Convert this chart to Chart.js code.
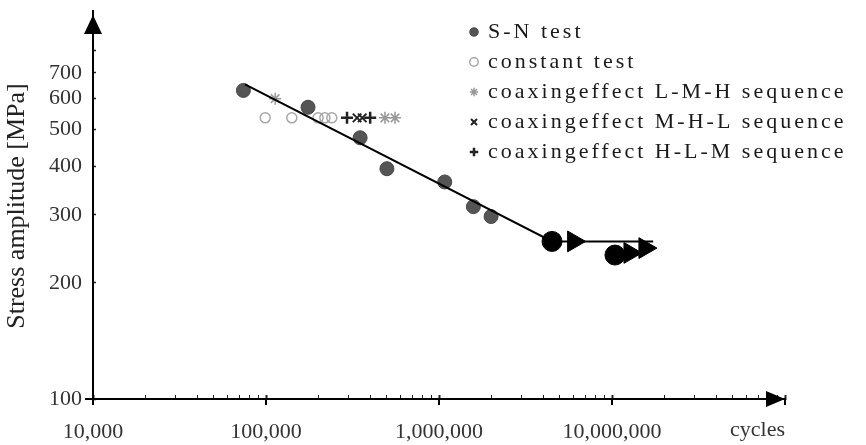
<!DOCTYPE html>
<html>
<head>
<meta charset="utf-8">
<script src="https://cdn.jsdelivr.net/npm/chart.js@4.4.1/dist/chart.umd.min.js"></script>
<style>
html,body{margin:0;padding:0;background:#fff;}
#wrap{width:866px;height:445px;position:relative;}
</style>
</head>
<body>
<div id="wrap"><canvas id="c" width="866" height="445"></canvas></div>
<script>
// ---- data (cycles N, stress amplitude in MPa) ----
const snCycles = [74000, 175000, 350000, 500000, 1080000, 1580000, 2000000];
const snStress = [630, 570, 475, 395, 365, 315, 297];

const constantCycles = [99000, 141000, 200000, 219000, 240000];
const constantStress = [535, 535, 535, 535, 535];

const lmhCycles = [113000, 487000, 557000];
const lmhStress = [600, 535, 535];

const mhlCycles = [336000, 360000];
const mhlStress = [535, 535];

const hlmCycles = [294000, 400000];
const hlmStress = [535, 535];

const fitCycles = [75600, 4500000, 17300000];
const fitStress = [653, 256, 256];

const runoutCycles = [4500000, 10400000];
const runoutStress = [256, 236];

const arrowCycles = [6000000, 12700000, 15500000];
const arrowStress = [256, 239, 246];

const seriesLabels = ['S-N test', 'constant test',
  'coaxingeffect L-M-H sequence', 'coaxingeffect M-H-L sequence', 'coaxingeffect H-L-M sequence'];

const xMajorValues = [1e4, 1e5, 1e6, 1e7, 1e8];
const xTickLabels = ['10,000', '100,000', '1,000,000', '10,000,000', ''];
const yTickValues = [100, 200, 300, 400, 500, 600, 700, 800, 900];
const yTickLabels = ['100', '200', '300', '400', '500', '600', '700', '', ''];
const xAxisEndLabel = 'cycles';
const yAxisTitle = 'Stress amplitude [MPa]';

// ---- helpers ----
const pts = (xs, ys) => xs.map((x, i) => ({x: x, y: ys[i]}));
const xTickValues = [];
xMajorValues.forEach((m, i) => {
  xTickValues.push(m);
  if (i < xMajorValues.length - 1) for (let k = 2; k <= 9; k++) xTickValues.push(m * k);
});
const isMajorX = v => xMajorValues.some(m => Math.abs(v - m) < m * 1e-6);
const xLabelFor = v => {
  const i = xMajorValues.findIndex(m => Math.abs(v - m) < m * 1e-6);
  return i >= 0 ? xTickLabels[i] : '';
};
const yLabelFor = v => {
  const i = yTickValues.findIndex(m => Math.abs(v - m) < 1e-6);
  return i >= 0 ? yTickLabels[i] : '';
};

const FONT = "'Liberation Serif', 'Times New Roman', serif";
Chart.defaults.font.family = FONT;

const decor = {
  id: 'decor',
  afterLayout(chart) {
    const lg = chart.legend;
    if (lg) {
      lg.left = 463; lg.top = 13;
      lg.right = chart.width; lg.width = chart.width - 463;
      lg.bottom = 220; lg.height = 207;
    }
  },
  beforeDraw(chart) {
    const lg = chart.legend;
    if (lg && !lg._spaced) {
      const orig = lg.draw;
      lg.draw = function (a) {
        const c = this.ctx;
        c.save();
        c.letterSpacing = '3px';
        orig.call(this, a);
        c.letterSpacing = '0px';
        c.restore();
      };
      lg._spaced = true;
    }
  },
  afterDraw(chart) {
    const {ctx, chartArea: a, scales} = chart;
    const x = scales.x;
    ctx.save();
    ctx.fillStyle = '#000';
    ctx.strokeStyle = '#000';
    ctx.lineWidth = 2;
    // y arrow
    ctx.beginPath();
    ctx.moveTo(a.left, a.top + 4); ctx.lineTo(a.left, a.top - 3); ctx.stroke();
    ctx.beginPath();
    ctx.moveTo(a.left, a.top + 2);
    ctx.lineTo(a.left - 9, a.top + 21);
    ctx.lineTo(a.left + 9, a.top + 21);
    ctx.closePath(); ctx.fill();
    // x arrow
    ctx.beginPath();
    ctx.moveTo(a.right, a.bottom);
    ctx.lineTo(a.right - 19, a.bottom - 8);
    ctx.lineTo(a.right - 19, a.bottom + 8);
    ctx.closePath(); ctx.fill();
    // axis cross extensions
    ctx.beginPath();
    ctx.moveTo(a.left - 8, a.bottom); ctx.lineTo(a.left, a.bottom);
    ctx.moveTo(a.left, a.bottom); ctx.lineTo(a.left, a.bottom + 5);
    ctx.stroke();
    // major tick parts below the axis
    ctx.lineWidth = 2;
    xMajorValues.forEach(v => {
      const px = x.getPixelForValue(v);
      ctx.beginPath(); ctx.moveTo(px, a.bottom); ctx.lineTo(px, a.bottom + 6); ctx.stroke();
    });
    ctx.restore();
  }
};

new Chart(document.getElementById('c').getContext('2d'), {
  type: 'scatter',
  data: {
    datasets: [
      {label: seriesLabels[0], data: pts(snCycles, snStress), pointStyle: 'circle', pointRadius: 7,
        backgroundColor: '#555', borderColor: '#474747', borderWidth: 1, order: 3},
      {label: seriesLabels[1], data: pts(constantCycles, constantStress), pointStyle: 'circle', pointRadius: 5,
        backgroundColor: 'rgba(255,255,255,0)', borderColor: '#a8a8a8', borderWidth: 1.5, order: 3},
      {label: seriesLabels[2], data: pts(lmhCycles, lmhStress), pointStyle: 'star', pointRadius: 6,
        backgroundColor: '#999', borderColor: '#999', borderWidth: 1.5, order: 3},
      {label: seriesLabels[3], data: pts(mhlCycles, mhlStress), pointStyle: 'crossRot', pointRadius: 6,
        backgroundColor: '#222', borderColor: '#222', borderWidth: 2, order: 3},
      {label: seriesLabels[4], data: pts(hlmCycles, hlmStress), pointStyle: 'cross', pointRadius: 6,
        backgroundColor: '#222', borderColor: '#222', borderWidth: 2.5, order: 3},
      {label: 'fit', data: pts(fitCycles, fitStress), showLine: true, tension: 0, pointRadius: 0,
        borderColor: '#000', borderWidth: 2, backgroundColor: '#000', fill: false, order: 1},
      {label: 'runout', data: pts(runoutCycles, runoutStress), pointStyle: 'circle', pointRadius: 10,
        backgroundColor: '#000', borderColor: '#000', borderWidth: 1, order: 0},
      {label: 'runout arrow', data: pts(arrowCycles, arrowStress), pointStyle: 'triangle', rotation: 90,
        pointRadius: 12, backgroundColor: '#000', borderColor: '#000', borderWidth: 1, order: 0}
    ]
  },
  options: {
    responsive: false,
    animation: false,
    devicePixelRatio: 1,
    events: [],
    layout: {padding: {left: 0, top: 10, right: 81, bottom: 0}},
    plugins: {
      tooltip: {enabled: false},
      legend: {
        display: true,
        position: 'chartArea',
        align: 'start',
        labels: {
          usePointStyle: true,
          boxWidth: 6,
          boxHeight: 6,
          padding: 8,
          color: '#1a1a1a',
          font: {size: 22, family: FONT},
          filter: (item) => item.datasetIndex < 5
        }
      }
    },
    scales: {
      x: {
        type: 'logarithmic',
        position: 'bottom',
        min: 1e4,
        max: 1e8,
        afterBuildTicks: s => { s.ticks = xTickValues.map(v => ({value: v})); },
        afterFit: s => { s.height = 46; s.paddingLeft = 0; s.paddingRight = 0; },
        border: {display: true, color: '#000', width: 2},
        grid: {
          drawOnChartArea: false, drawTicks: true, tickLength: -4, tickColor: '#222',
          tickWidth: c => (c.tick && isMajorX(c.tick.value)) ? 2 : 1
        },
        ticks: {
          autoSkip: false, maxRotation: 0, minRotation: 0, padding: 24, color: '#333',
          font: {size: 22, family: FONT},
          callback: v => xLabelFor(v)
        },
        title: {display: true, text: xAxisEndLabel, align: 'end', color: '#333',
          font: {size: 22, family: FONT}, padding: {top: 0, bottom: 2}}
      },
      y: {
        type: 'logarithmic',
        position: 'left',
        min: 100,
        max: 1000,
        afterBuildTicks: s => { s.ticks = yTickValues.map(v => ({value: v})); },
        afterFit: s => { s.width = 93; s.paddingTop = 0; s.paddingBottom = 0; },
        border: {display: true, color: '#000', width: 2},
        grid: {drawOnChartArea: false, drawTicks: true, tickLength: -3, tickColor: '#222', tickWidth: 1.5},
        ticks: {
          autoSkip: false, padding: 14, color: '#333',
          font: {size: 22, family: FONT},
          callback: v => yLabelFor(v)
        },
        title: {display: true, text: yAxisTitle, color: '#222',
          font: {size: 26, family: FONT}, padding: {top: 2, bottom: 0}}
      }
    }
  },
  plugins: [decor]
});
</script>
</body>
</html>
